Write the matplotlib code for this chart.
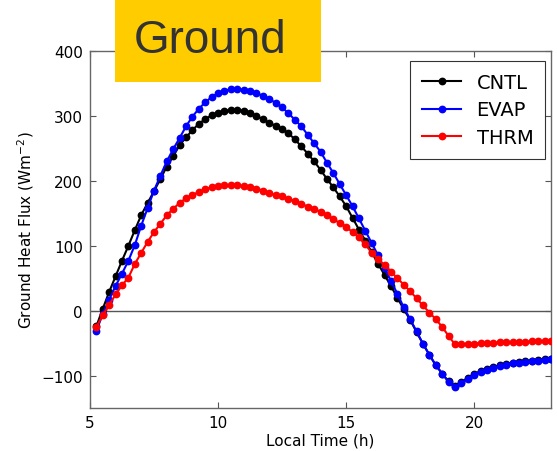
import numpy as np
import matplotlib
matplotlib.use("Agg")
import matplotlib.pyplot as plt
from matplotlib.patches import Rectangle

hours = np.arange(5.25, 23.01, 0.25)

cntl = [-24, 3, 29, 53, 77, 100, 124, 147, 166, 184, 203, 222, 238, 255, 267, 278,
        288, 295, 301, 305, 308, 309, 309, 308, 305, 300, 295, 289, 285, 280, 273, 264,
        253, 242, 230, 217, 203, 190, 176, 161, 143, 125, 108, 90, 72, 55, 38, 20,
        2, -14, -33, -51, -68, -84, -97, -109, -116, -110, -104, -98, -93, -90, -87, -84,
        -82, -80, -79, -78, -77, -76, -75, -74]

evap = [-31, -5, 17, 38, 57, 77, 101, 131, 158, 185, 208, 230, 249, 266, 284, 299,
        311, 321, 329, 335, 339, 341, 342, 340, 338, 335, 331, 326, 320, 313, 304, 294,
        284, 271, 258, 245, 228, 212, 195, 178, 161, 142, 123, 104, 85, 65, 46, 26,
        5, -13, -32, -51, -68, -84, -97, -110, -118, -112, -105, -99, -94, -91, -88, -85,
        -83, -81, -80, -79, -78, -77, -76, -75]

thrm = [-25, -7, 9, 25, 39, 51, 72, 89, 106, 121, 134, 147, 157, 166, 173, 178,
        183, 187, 190, 192, 193, 193, 193, 192, 190, 188, 185, 181, 178, 176, 172, 169,
        165, 160, 157, 152, 147, 141, 135, 129, 121, 113, 102, 89, 79, 70, 60, 50,
        40, 30, 19, 8, -3, -13, -25, -39, -52, -52, -51, -51, -50, -50, -49.5, -49,
        -49, -48.5, -48, -48, -47.5, -47, -47, -46.5]

series_names = ["CNTL", "EVAP", "THRM"]
series_colors = ["black", "#0000ff", "#ff0000"]
xticks = [5, 10, 15, 20]
yticks = [-100, 0, 100, 200, 300, 400]

plt.rcParams['font.family'] = ['DejaVu Sans']

fig = plt.figure(figsize=(5.57, 4.52), dpi=100)
ax = fig.add_axes([90/557, 1 - 409/452, 461/557, 357/452])

ax.axhline(0, color="#555555", lw=1.0, zorder=1)
for vals, name, col in zip([cntl, evap, thrm], series_names, series_colors):
    ax.plot(hours, vals, '-o', color=col, lw=1.5, ms=4.6, mec=col, label=name, zorder=3)

ax.set_xlim(5, 23)
ax.set_ylim(-150, 400)
ax.set_xticks(xticks)
ax.set_yticks(yticks)
ax.tick_params(direction='in', length=4, top=True, right=True, labelsize=11,
               color="#555555", pad=5)
for s in ax.spines.values():
    s.set_color("#666666")
    s.set_linewidth(1.0)

ax.set_xlabel("Local Time (h)", fontsize=11, labelpad=2)
ax.set_ylabel("Ground Heat Flux (Wm$^{-2}$)", fontsize=11, labelpad=4)

leg = ax.legend(loc='upper right', fontsize=14, frameon=True, fancybox=False,
                edgecolor='black', handlelength=2.0, borderpad=0.6, labelspacing=0.45,
                handletextpad=0.8, borderaxespad=0,
                bbox_to_anchor=(1 - 6/461, 1 - 10/357))
leg.get_frame().set_linewidth(0.8)

rect = Rectangle((115/557, 1 - 83/452), 206/557, 83/452, transform=fig.transFigure,
                 facecolor="#FFCC00", edgecolor='none', zorder=5)
fig.patches.append(rect)
fig.text(210/557, 1 - 41/452, "Ground", fontsize=33, color="#333333",
         family="Liberation Sans", ha='center', va='center', zorder=6)

fig.savefig("out.png", dpi=100)
